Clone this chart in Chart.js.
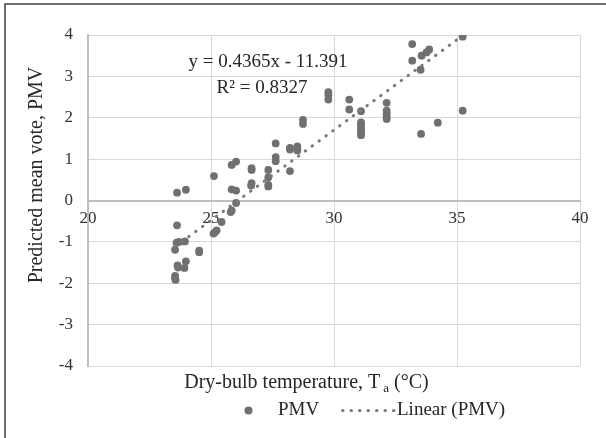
<!DOCTYPE html>
<html>
<head>
<meta charset="utf-8">
<script src="https://cdn.jsdelivr.net/npm/chart.js@4.4.1/dist/chart.umd.min.js"></script>
<style>
  html, body { margin: 0; padding: 0; background: #fff; }
  #wrap { position: relative; width: 606px; height: 438px; }
</style>
</head>
<body>
<div id="wrap"><canvas id="chart" width="606" height="438"></canvas></div>
<script>
/* PMV vs dry-bulb temperature scatter */
const tempC = [
  23.62, 23.98, 23.62, 23.60, 23.70, 23.94, 23.54, 24.52, 24.52, 23.64,
  23.66, 23.98, 23.92, 23.54, 23.54, 23.56, 25.16, 25.23, 25.10, 25.43,
  25.84, 25.80, 26.02, 25.84, 26.02, 25.12, 25.84, 26.02, 26.65, 26.65,
  26.65, 26.63, 27.33, 27.33, 27.33, 27.33, 27.63, 27.63, 27.63, 28.21,
  28.21, 28.51, 28.51, 28.51, 28.21, 28.74, 28.74, 29.77, 29.77, 29.77,
  30.62, 30.62, 31.10, 31.10, 31.10, 31.10, 31.10, 31.10, 31.10, 32.14,
  32.14, 32.14, 32.14, 32.14, 33.18, 33.18, 33.52, 33.56, 33.76, 33.87,
  33.54, 34.22, 35.23, 35.23
];
const pmv = [
  0.19, 0.26, -0.60, -1.02, -1.00, -0.99, -1.19, -1.21, -1.25, -1.57,
  -1.62, -1.47, -1.63, -1.82, -1.88, -1.92, -0.77, -0.72, -0.80, -0.52,
  -0.24, -0.28, -0.06, 0.27, 0.24, 0.59, 0.86, 0.94, 0.78, 0.74,
  0.42, 0.36, 0.74, 0.56, 0.34, 0.38, 1.38, 1.05, 0.95, 1.27,
  1.23, 1.31, 1.21, 1.25, 0.71, 1.95, 1.85, 2.62, 2.55, 2.44,
  2.44, 2.20, 2.16, 1.89, 1.82, 1.75, 1.70, 1.64, 1.58, 2.36,
  2.17, 2.10, 2.03, 1.97, 3.78, 3.38, 3.16, 3.50, 3.58, 3.65,
  1.61, 1.88, 3.96, 2.17
];
// end points of the Excel linear trendline (y = 0.4365x - 11.391)
const trendX = [23.54, 35.23];
const trendY = [-1.115, 3.987];

const xTicks = [20, 25, 30, 35, 40];
const yTicks = [-4, -3, -2, -1, 0, 1, 2, 3, 4];

const xTitle = ["Dry-bulb temperature, T", "a", " (°C)"];
const yTitle = "Predicted mean vote, PMV";
const equation = ["y = 0.4365x - 11.391", "R² = 0.8327"];
const legendNames = ["PMV", "Linear (PMV)"];

const SERIF = '"Liberation Serif", "Times New Roman", serif';
const MARK = "#707070";
const TREND = "#7a7a7a";
const TEXT = "#262626";

const decor = {
  id: "decor",
  beforeDraw(chart) {
    const ctx = chart.ctx;
    ctx.save();
    ctx.strokeStyle = "#3f3f3f";
    ctx.lineWidth = 1.5;
    ctx.beginPath();
    ctx.moveTo(5, 438);
    ctx.lineTo(5, 4);
    ctx.lineTo(606, 4);
    ctx.stroke();
    ctx.restore();
  },
  afterDraw(chart) {
    const ctx = chart.ctx;
    ctx.save();
    ctx.fillStyle = TEXT;
    ctx.textBaseline = "alphabetic";

    // y title
    ctx.save();
    ctx.font = "20px " + SERIF;
    ctx.translate(37, 175);
    ctx.rotate(-Math.PI / 2);
    ctx.textAlign = "center";
    ctx.textBaseline = "middle";
    ctx.fillText(yTitle, 0, 0);
    ctx.restore();

    // x title with subscript
    ctx.textAlign = "left";
    const big = "20px " + SERIF, small = "13px " + SERIF;
    ctx.font = big;
    const w1 = ctx.measureText(xTitle[0]).width;
    const w3 = ctx.measureText(xTitle[2]).width;
    ctx.font = small;
    const w2 = ctx.measureText(xTitle[1]).width + 3;
    let tx = 306.5 - (w1 + w2 + w3) / 2;
    ctx.font = big;
    ctx.fillText(xTitle[0], tx, 388);
    ctx.font = small;
    ctx.fillText(xTitle[1], tx + w1 + 3, 392);
    ctx.font = big;
    ctx.fillText(xTitle[2], tx + w1 + w2, 388);

    // trendline equation
    ctx.font = "19px " + SERIF;
    ctx.textAlign = "center";
    ctx.fillText(equation[0], 268, 67);
    ctx.fillText(equation[1], 262, 93);

    // legend
    ctx.fillStyle = MARK;
    ctx.beginPath();
    ctx.arc(248.5, 410.5, 4, 0, Math.PI * 2);
    ctx.fill();
    ctx.strokeStyle = TREND;
    ctx.lineWidth = 3;
    ctx.lineCap = "round";
    ctx.setLineDash([0.5, 8]);
    ctx.beginPath();
    ctx.moveTo(342.5, 410.5);
    ctx.lineTo(394, 410.5);
    ctx.stroke();
    ctx.setLineDash([]);
    ctx.fillStyle = TEXT;
    ctx.textAlign = "left";
    ctx.font = "19px " + SERIF;
    ctx.fillText(legendNames[0], 278, 415);
    ctx.fillText(legendNames[1], 397, 415);
    ctx.restore();
  },
};

new Chart(document.getElementById("chart"), {
  type: "scatter",
  data: {
    datasets: [
      {
        label: legendNames[1],
        data: trendX.map((x, i) => ({ x, y: trendY[i] })),
        showLine: true,
        borderColor: TREND,
        borderWidth: 3,
        borderDash: [0.5, 8],
        borderCapStyle: "round",
        pointRadius: 0,
      },
      {
        label: legendNames[0],
        data: tempC.map((x, i) => ({ x, y: pmv[i] })),
        backgroundColor: MARK,
        borderWidth: 0,
        pointRadius: 3.9,
      },
    ],
  },
  options: {
    responsive: false,
    animation: false,
    layout: { padding: { left: 0, right: 26, top: 35, bottom: 72 } },
    plugins: { legend: { display: false }, tooltip: { enabled: false } },
    scales: {
      x: {
        type: "linear",
        position: { y: 0 },
        min: 20,
        max: 40,
        afterBuildTicks: (s) => { s.ticks = xTicks.map((v) => ({ value: v })); },
        grid: { color: "#d9d9d9", lineWidth: 1, drawTicks: false },
        border: { color: "#bfbfbf", width: 2 },
        ticks: { color: "#333", font: { family: SERIF, size: 17 }, padding: 8, maxRotation: 0 },
      },
      y: {
        min: -4,
        max: 4,
        afterBuildTicks: (s) => { s.ticks = yTicks.map((v) => ({ value: v })); },
        afterFit: (s) => { s.width = 88; },
        grid: { color: "#d9d9d9", lineWidth: 1, drawTicks: false },
        border: { color: "#bfbfbf", width: 2 },
        ticks: { color: "#333", font: { family: SERIF, size: 17 }, padding: 15 },
      },
    },
  },
  plugins: [decor],
});
</script>
</body>
</html>
